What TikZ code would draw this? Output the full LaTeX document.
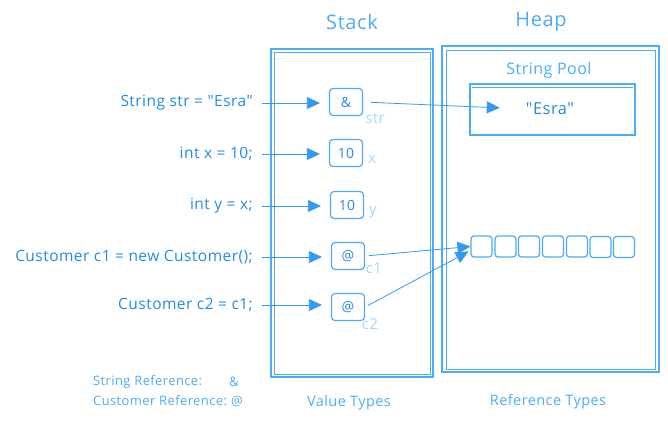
\documentclass[tikz,border=0pt]{standalone}
\usepackage{fontspec}
\setmainfont{Open Sans}
\newfontfamily\handfont[LetterSpace=3]{Open Sans}
\usetikzlibrary{arrows.meta}
\definecolor{txt}{HTML}{228BE6}
\definecolor{strk}{HTML}{4DABF7}
\definecolor{lbl}{HTML}{A5D8FF}
\definecolor{arrc}{HTML}{339AF0}
\begin{document}
\begin{tikzpicture}[x=1pt,y=-1pt,
  code/.style={anchor=east, text=txt, font=\handfont\fontsize{15.5}{17}\selectfont, inner sep=0pt},
  cell/.style={draw=strk, line width=1.2pt, rounded corners=3.5pt, minimum width=33pt, minimum height=27pt, inner sep=0pt, text=txt, font=\handfont\fontsize{14}{16}\selectfont},
  hcell/.style={draw=strk, line width=1.2pt, rounded corners=3pt, minimum width=21pt, minimum height=21pt, inner sep=0pt},
  varlbl/.style={text=lbl, font=\handfont\fontsize{15}{17}\selectfont, inner sep=0pt},
  title/.style={text=strk, font=\handfont\fontsize{20}{22}\selectfont, inner sep=0pt},
  subtitle/.style={text=strk, font=\handfont\fontsize{14.5}{17}\selectfont, inner sep=0pt},
  legend/.style={text=strk, font=\handfont\fontsize{13}{15}\selectfont, inner sep=0pt, anchor=west},
  frame/.style={draw=strk, line width=1.6pt},
  frame2/.style={draw=strk, line width=0.8pt},
  arr/.style={draw=arrc, line width=0.8pt, -{Triangle[length=13pt,width=12pt]}},
]
\useasboundingbox (0,0) rectangle (668,422);

% titles
\node[title] (stacktitle) at (352,22) {Stack};
\node[title] (heaptitle) at (541,22) {Heap};

% frames (sketchy double lines)
\draw[frame] (271,49) rectangle (433,377);
\draw[frame2] (274,52) rectangle (430,374);
\draw[frame] (442,46) rectangle (659,372);
\draw[frame2] (446,50) rectangle (655,369);

% string pool
\node[subtitle, font=\handfont\fontsize{16}{18}\selectfont] (pooltitle) at (549,70) {String Pool};
\draw[frame] (470,84) rectangle (635,135);
\draw[frame2] (472,87) -- (633,87);
\node[text=txt, font=\handfont\fontsize{16.5}{18}\selectfont, inner sep=0pt] (esra) at (550,109) {"Esra"};

% stack cells
\node[cell] (ca) at (346,102) {\&};
\node[cell] (cx) at (346,153) {10};
\node[cell] (cy) at (347,205) {10};
\node[cell] (cc1) at (348,256) {@};
\node[cell] (cc2) at (348,307) {@};

% variable labels
\node[varlbl] (lstr) at (375,119) {str};
\node[varlbl] (lx) at (372,159) {x};
\node[varlbl] (ly) at (373,212) {y};
\node[varlbl] (lc1) at (374,268) {c1};
\node[varlbl] (lc2) at (370,324) {c2};

% code lines
\node[code] (ka) at (253,103) {String str = "Esra"};
\node[code] (kx) at (253,154) {int x = 10;};
\node[code] (ky) at (253,206) {int y = x;};
\node[code] (kc1) at (253,257) {Customer c1 = new Customer();};
\node[code] (kc2) at (253,305) {Customer c2 = c1;};

% heap array
\node[hcell] (h1) at (481.5,246.5) {};
\node[hcell] (h2) at (505.5,246.5) {};
\node[hcell] (h3) at (529,246.5) {};
\node[hcell] (h4) at (553,246.5) {};
\node[hcell] (h5) at (577,246.5) {};
\node[hcell] (h6) at (600.5,247) {};
\node[hcell] (h7) at (624,247) {};

% arrows from code to stack
\draw[arr, shorten <=9pt, shorten >=9pt] (ka.east) -- (ka.east -| ca.west);
\draw[arr, shorten <=9pt, shorten >=9pt] (kx.east) -- (kx.east -| cx.west);
\draw[arr, shorten <=9pt, shorten >=9pt] (ky.east) -- (ky.east -| cy.west);
\draw[arr, shorten <=9pt, shorten >=9pt] (kc1.east) -- (kc1.east -| cc1.west);
\draw[arr, shorten <=9pt, shorten >=9pt] (kc2.east) -- (kc2.east -| cc2.west);

% references
\draw[arr, shorten <=8pt, shorten >=26pt] (ca.east) -- (esra.west);
\draw[arr, shorten <=4pt] (cc1.east) -- (h1.west);
\draw[arr, shorten <=3pt, shorten >=2pt] (cc2.east) -- ([yshift=-4pt]h1.west);

% legend
\node[legend] (lg1) at (93,382) {String Reference:};
\node[legend] (lg1s) at (229,382) {\&};
\node[legend] (lg2) at (93,401) {Customer Reference:};
\node[legend] (lg2s) at (231,401) {@};

% bottom captions
\node[subtitle] (vt) at (349,403) {Value Types};
\node[subtitle] (rt) at (548,402) {Reference Types};
\end{tikzpicture}
\end{document}
